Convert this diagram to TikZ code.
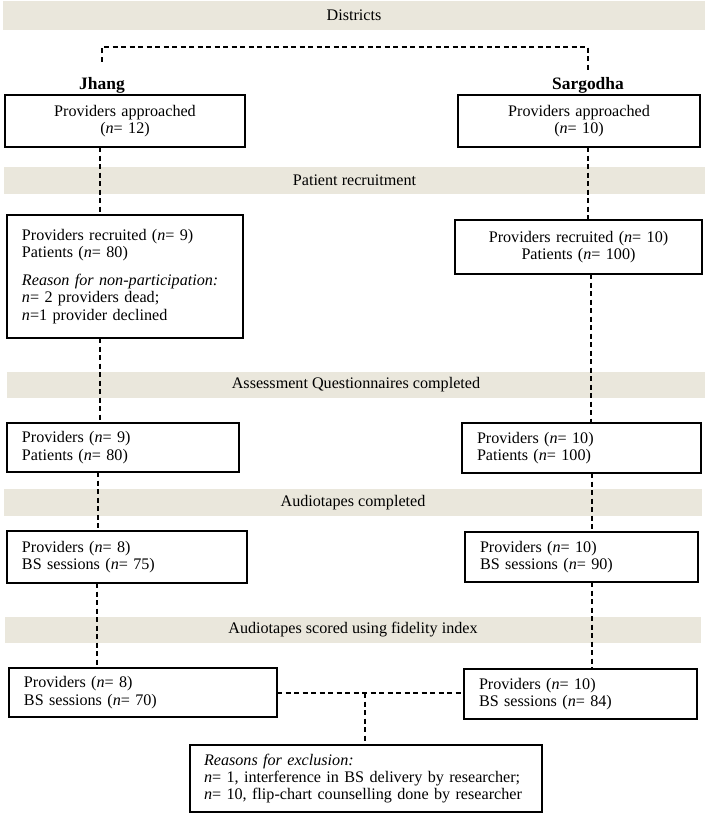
\documentclass[tikz,border=0pt]{standalone}
\usepackage{fontspec}
\setmainfont{Liberation Serif}
\usetikzlibrary{calc}
\definecolor{bannerbg}{RGB}{234,231,220}
\begin{document}
\begin{tikzpicture}[x=1bp,y=-1bp,
  font=\fontsize{16.2}{17.5}\selectfont,
  banner/.style={fill=bannerbg, draw=none, inner sep=0pt, outer sep=0pt},
  boxc/.style={draw, fill=white, line width=1.1bp, inner xsep=15bp, inner ysep=0pt, outer sep=0pt, align=center},
  boxl/.style={draw, fill=white, line width=1.1bp, inner xsep=15bp, inner ysep=0pt, outer sep=0pt, align=left},
  dline/.style={line width=1.1bp, dash pattern=on 5bp off 3.5bp},
  district/.style={font=\fontsize{17.5}{19}\selectfont\bfseries, inner sep=0pt}
]
\useasboundingbox (0,0) rectangle (709,815);

% banners
\node[banner, minimum width=702bp, minimum height=29bp] (bD) at (354,15.5) {Districts};
\node[banner, minimum width=701bp, minimum height=27bp] (bP) at (354.5,180.5) {Patient recruitment};
\node[banner, minimum width=698bp, minimum height=26bp] (bA) at (356,385) {Assessment Questionnaires completed};
\node[banner, minimum width=698bp, minimum height=27bp] (bC) at (353,502.5) {Audiotapes completed};
\node[banner, minimum width=696bp, minimum height=26bp] (bS) at (353,630) {Audiotapes scored using fidelity index};

% district labels
\node[district] (jh) at (102,85) {Jhang};
\node[district] (sg) at (588,85) {Sargodha};

% column coordinates
\coordinate (cA1) at (100,0);
\coordinate (cA2) at (98,0);
\coordinate (cA3) at (97,0);
\coordinate (cB1) at (588,0);
\coordinate (cB2) at (591,0);
\coordinate (cB3) at (592,0);
\coordinate (ddl) at (102,62);
\coordinate (ddr) at (588,72);
\coordinate (ddtop) at (345,47);
\coordinate (cmid) at (365,0);

% boxes
\node[boxc, text width=210bp, minimum height=52bp] (A1) at (125,121) {Providers approached\\(\textit{n}= 12)};
\node[boxc, text width=212bp, minimum height=52bp] (B1) at (579,121) {Providers approached\\(\textit{n}= 10)};

\node[boxl, text width=206bp, minimum height=123bp] (A2) at (125,276.5) {Providers recruited (\textit{n}= 9)\\Patients (\textit{n}= 80)\\[10bp]\textit{Reason for non-participation:}\\\textit{n}= 2 providers dead;\\\textit{n}=1 provider declined};
\node[boxc, text width=217bp, minimum height=54bp] (B2) at (578.5,247) {Providers recruited (\textit{n}= 10)\\Patients (\textit{n}= 100)};

\node[boxl, text width=202bp, minimum height=49bp] (A3) at (123,447.5) {Providers (\textit{n}= 9)\\Patients (\textit{n}= 80)};
\node[boxl, text width=209bp, minimum height=50bp] (B3) at (581.5,448) {Providers (\textit{n}= 10)\\Patients (\textit{n}= 100)};

\node[boxl, text width=210bp, minimum height=52bp] (A4) at (127,557) {Providers (\textit{n}= 8)\\BS sessions (\textit{n}= 75)};
\node[boxl, text width=203bp, minimum height=50bp] (B4) at (581.5,557) {Providers (\textit{n}= 10)\\BS sessions (\textit{n}= 90)};

\node[boxl, text width=238bp, minimum height=49bp] (A5) at (143,692.5) {Providers (\textit{n}= 8)\\BS sessions (\textit{n}= 70)};
\node[boxl, text width=203bp, minimum height=50bp] (B5) at (580.5,694) {Providers (\textit{n}= 10)\\BS sessions (\textit{n}= 84)};

\node[boxl, inner xsep=14bp, text width=324bp, minimum height=67bp] (C) at (366,778.5) {\textit{Reasons for exclusion:}\\\textit{n}= 1, interference in BS delivery by researcher;\\\textit{n}= 10, flip-chart counselling done by researcher};

% connectors
\draw[dline] (ddl) |- (ddtop) -| (ddr);
\draw[dline] (A1.south -| cA1) -- (A2.north -| cA1);
\draw[dline] (B1.south -| cB1) -- (B2.north -| cB1);
\draw[dline] (A2.south -| cA1) -- (A3.north -| cA1);
\draw[dline] (B2.south -| cB2) -- (B3.north -| cB2);
\draw[dline] (A3.south -| cA2) -- (A4.north -| cA2);
\draw[dline] (B3.south -| cB3) -- (B4.north -| cB3);
\draw[dline] (A4.south -| cA3) -- (A5.north -| cA3);
\draw[dline] (B4.south -| cB3) -- (B5.north -| cB3);
\coordinate (hj) at (A5.east |- 0,693);
\draw[dline] (hj) -- (B5.west |- hj);
\draw[dline] (hj -| cmid) -- (C.north -| cmid);
\end{tikzpicture}
\end{document}
